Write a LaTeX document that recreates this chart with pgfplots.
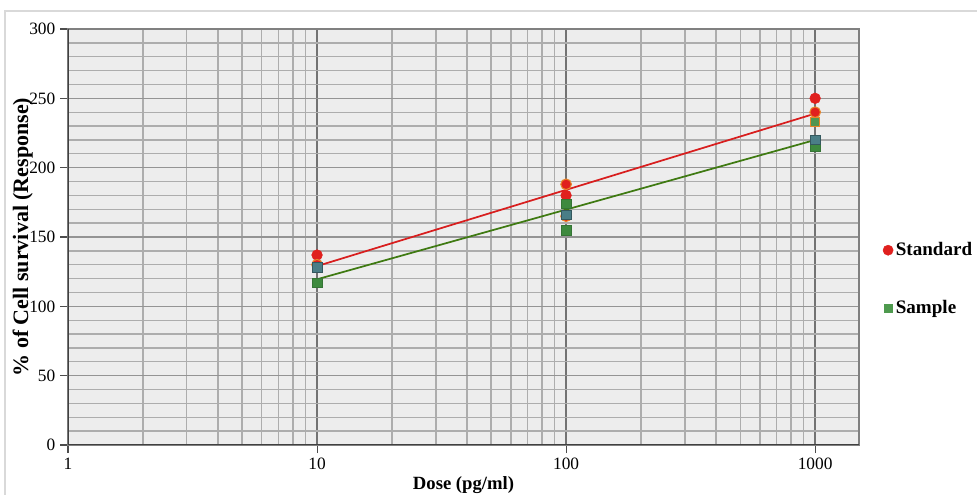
\documentclass[border=0pt]{standalone}
\usepackage{fontspec}
\setmainfont{Liberation Serif}
\usepackage{pgfplots}
\pgfplotsset{compat=1.18}

\definecolor{stdred}{HTML}{E0201E}
\definecolor{stdorange}{HTML}{E8862A}
\definecolor{smpgreen}{HTML}{3E8A3E}
\definecolor{legreen}{HTML}{4E9A4E}
\definecolor{smpteal}{HTML}{4A7E86}
\definecolor{linered}{HTML}{D81E1E}
\definecolor{linegreen}{HTML}{3F7A12}
\definecolor{plotbg}{HTML}{EDEDED}

\begin{document}
\begin{tikzpicture}[x=1pt,y=1pt]
% page frame (1px = 0.75pt)
\path[use as bounding box] (-51,-37.5) rectangle (681.75,333.75);
\draw[draw=black!15, line width=1.5pt] (-47.25,325.5) rectangle (700,-60);
\begin{axis}[
  at={(0,0)}, anchor=south west,
  scale only axis,
  width=593.25pt, height=312pt,
  xmode=log,
  xmin=1, xmax=1500,
  ymin=0, ymax=300,
  xtick={1,10,100,1000},
  xticklabels={1,10,100,1000},
  ytick={0,50,...,300},
  minor ytick={10,20,...,290},
  grid=both,
  major x grid style={draw=black!55, line width=1pt},
  major y grid style={draw=black!42, line width=1pt},
  minor grid style={draw=black!32, line width=1pt},
  axis background/.style={fill=plotbg},
  axis line style={draw=black!50, line width=1.2pt},
  tick align=outside,
  tick pos=left,
  major tick length=6pt,
  minor tick length=0pt,
  tick style={draw=black!70, line width=0.8pt},
  /pgf/number format/assume math mode=true,
  ticklabel style={font=\fontsize{13}{15}\selectfont},
  xlabel={\textbf{Dose (pg/ml)}},
  ylabel={\textbf{\% of Cell survival (Response)}},
  xlabel style={font=\fontsize{14}{16}\selectfont, at={(axis description cs:0.5,0)}, anchor=center, yshift=-30pt},
  ylabel style={font=\fontsize{16.5}{18}\selectfont, at={(axis description cs:0,0.5)}, anchor=center, yshift=34pt},
  legend style={at={(1.025,0.50)}, anchor=north west, draw=none, fill=none,
    font=\bfseries\fontsize{14.3}{16}\selectfont, row sep=28pt},
  legend cell align=left,
]
\addlegendimage{only marks, mark=*, mark size=3.8pt, draw=stdred, fill=stdred}
\addlegendentry{Standard}
\addlegendimage{only marks, mark=square*, mark size=2.8pt, draw=legreen, fill=legreen}
\addlegendentry{Sample}
% Standard replicates
\addplot[only marks, mark=*, mark size=4pt, draw=stdred, fill=stdred, forget plot]
  coordinates {(10,137) (100,180) (1000,250)};
\addplot[only marks, mark=*, mark size=4pt, draw=stdorange, line width=0.8pt, fill=stdred, forget plot]
  coordinates {(10,130) (100,188) (100,165) (1000,240)};
% Sample replicates
\addplot[only marks, mark=square*, mark size=3.6pt, draw=smpgreen!85!black, fill=smpgreen, forget plot]
  coordinates {(10,117) (100,174) (100,155) (1000,215)};
\addplot[only marks, mark=square*, mark size=3.6pt, draw=smpteal!70!black, fill=smpteal, forget plot]
  coordinates {(10,128) (100,166) (1000,220)};
\addplot[only marks, mark=square*, mark size=3.6pt, draw=stdorange, line width=0.8pt, fill=smpgreen!90!white, forget plot]
  coordinates {(1000,233)};
% trend lines
\addplot[linered, line width=1.3pt, forget plot] coordinates {(10,129) (1000,239)};
\addplot[linegreen, line width=1.3pt, forget plot] coordinates {(10,119.5) (1000,220)};
\draw[draw=black!75, line width=1.5pt] (rel axis cs:0,1) -- (rel axis cs:0,0) -- (rel axis cs:1,0);
\end{axis}
\end{tikzpicture}
\end{document}
